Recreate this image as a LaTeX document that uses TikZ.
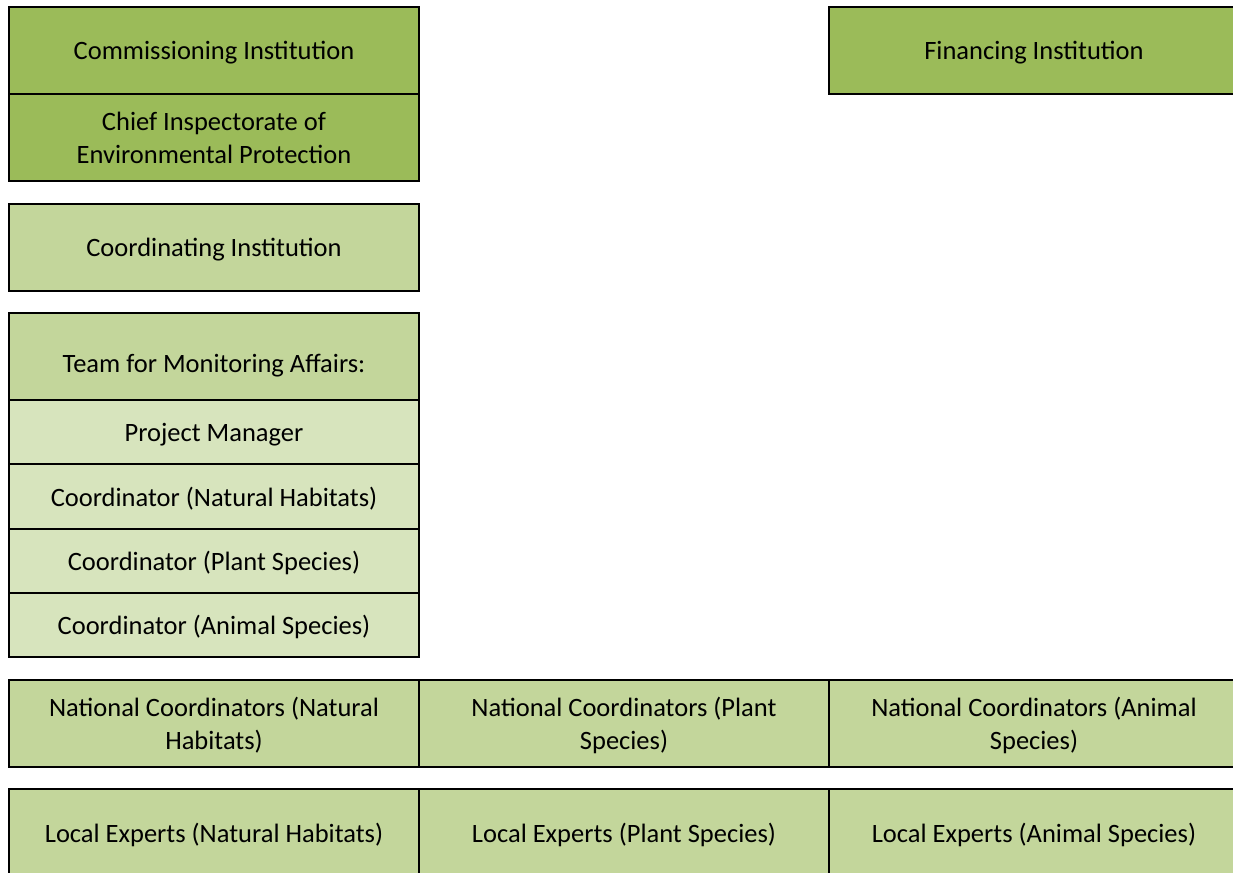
\documentclass[tikz,border=0pt]{standalone}
\usepackage{fontspec}
\setmainfont{Carlito}
\usetikzlibrary{positioning}
\definecolor{darkgreen}{HTML}{9BBB59}
\definecolor{midgreen}{HTML}{C3D69B}
\definecolor{palegreen}{HTML}{D7E4BD}

\begin{document}
\begin{tikzpicture}[x=1pt,y=-1pt,
  cell/.style={draw=black,line width=2pt,inner sep=0pt,outer sep=0pt,
    minimum width=\colw,minimum height=\rowh,align=center,text depth=0pt,
    font=\fontsize{26.5}{33}\selectfont},
  subcell/.style={cell,minimum height=\subh,fill=palegreen}]
  % Configurable parameters
  \def\colw{410pt}
  \def\rowh{87pt}
  \def\subh{64.3pt}
  \def\gap{22.5pt}
  %
  % Page frame
  \clip (0,0) rectangle (1233,872);
  %
  % Institutions
  \node[cell,fill=darkgreen,anchor=north west] (commission) at (9,7)
    {Commissioning Institution};
  \node[cell,fill=darkgreen,below=0pt of commission] (inspectorate)
    {Chief Inspectorate of\\Environmental Protection};
  \node[cell,fill=darkgreen,anchor=north west] (finance) at (829,7)
    {Financing Institution};
  \node[cell,fill=midgreen,below=\gap of inspectorate] (coordinating)
    {Coordinating Institution};
  %
  % Monitoring team
  \node[cell,fill=midgreen,text height=32pt,below=\gap of coordinating] (team)
    {Team for Monitoring Affairs:};
  \node[subcell,below=0pt of team] (manager) {Project Manager};
  \node[subcell,below=0pt of manager] (coordhab) {Coordinator (Natural Habitats)};
  \node[subcell,below=0pt of coordhab] (coordplant) {Coordinator (Plant Species)};
  \node[subcell,below=0pt of coordplant] (coordanim) {Coordinator (Animal Species)};
  %
  % National coordinators
  \node[cell,fill=midgreen,below=\gap of coordanim] (nathab)
    {National Coordinators (Natural\\Habitats)};
  \node[cell,fill=midgreen,right=0pt of nathab] (natplant)
    {National Coordinators (Plant\\Species)};
  \node[cell,fill=midgreen,right=0pt of natplant] (natanim)
    {National Coordinators (Animal\\Species)};
  %
  % Local experts
  \node[cell,fill=midgreen,below=\gap of nathab] (localhab)
    {Local Experts (Natural Habitats)};
  \node[cell,fill=midgreen,right=0pt of localhab] (localplant)
    {Local Experts (Plant Species)};
  \node[cell,fill=midgreen,right=0pt of localplant] (localanim)
    {Local Experts (Animal Species)};
  %
\end{tikzpicture}
\end{document}
